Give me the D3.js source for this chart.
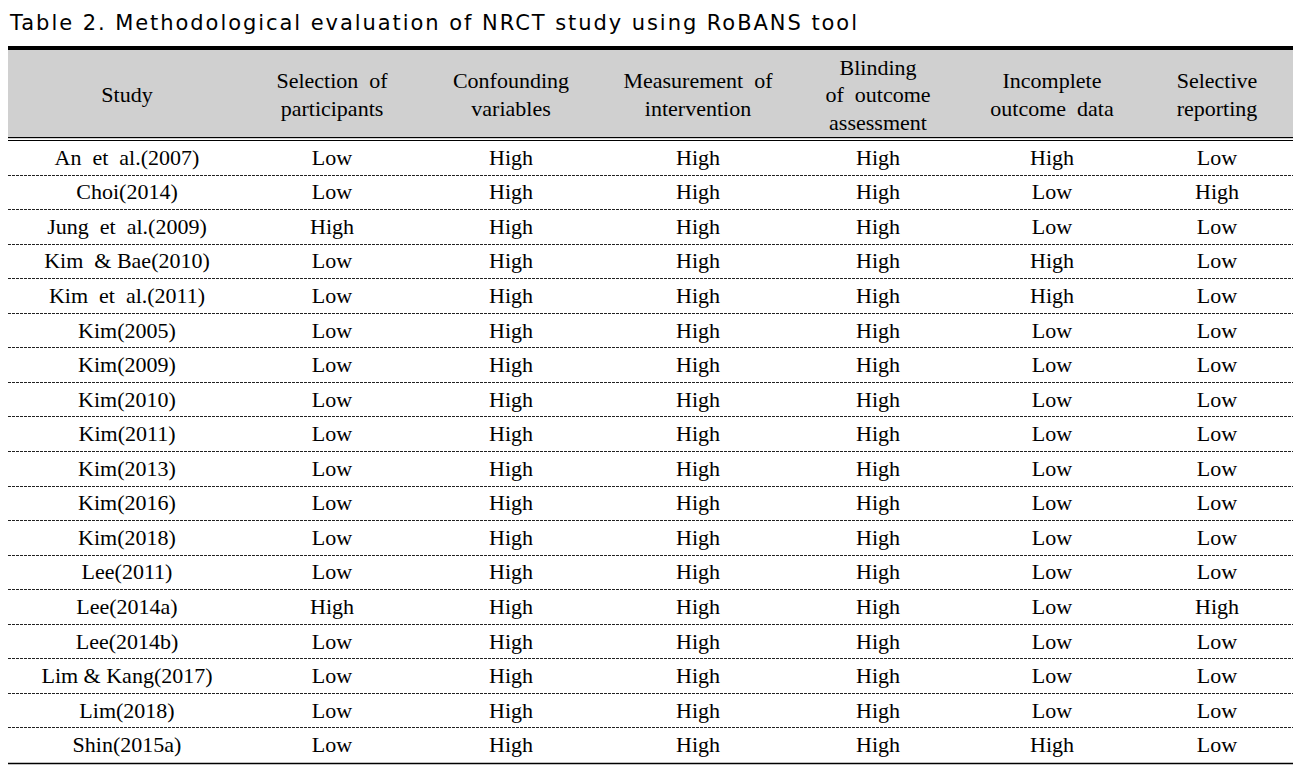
<!DOCTYPE html>
<html>
<head>
<meta charset="utf-8">
<script src="https://cdn.jsdelivr.net/npm/d3@7"></script>
<style>
  body { margin: 0; background: #fff; }
  svg text { white-space: pre; }
</style>
</head>
<body>
<svg id="table"></svg>
<script>
var title = "Table 2. Methodological evaluation of NRCT study using RoBANS tool";
var headers = [
    ["Study"],
    ["Selection  of", "participants"],
    ["Confounding", "variables"],
    ["Measurement  of", "intervention"],
    ["Blinding", "of  outcome", "assessment"],
    ["Incomplete", "outcome  data"],
    ["Selective", "reporting"]
];
var studies = ["An  et  al.(2007)", "Choi(2014)", "Jung  et  al.(2009)", "Kim  & Bae(2010)", "Kim  et  al.(2011)",
    "Kim(2005)", "Kim(2009)", "Kim(2010)", "Kim(2011)", "Kim(2013)", "Kim(2016)", "Kim(2018)",
    "Lee(2011)", "Lee(2014a)", "Lee(2014b)", "Lim & Kang(2017)", "Lim(2018)", "Shin(2015a)"];
var selection   = ["Low","Low","High","Low","Low","Low","Low","Low","Low","Low","Low","Low","Low","High","Low","Low","Low","Low"];
var confounding = ["High","High","High","High","High","High","High","High","High","High","High","High","High","High","High","High","High","High"];
var measurement = ["High","High","High","High","High","High","High","High","High","High","High","High","High","High","High","High","High","High"];
var blinding    = ["High","High","High","High","High","High","High","High","High","High","High","High","High","High","High","High","High","High"];
var incomplete  = ["High","Low","Low","High","High","Low","Low","Low","Low","Low","Low","Low","Low","Low","Low","Low","Low","High"];
var selective   = ["Low","High","Low","Low","Low","Low","Low","Low","Low","Low","Low","Low","Low","High","Low","Low","Low","Low"];

// layout
var W = 1302, H = 774;
var left = 8, right = 1293;
var topLine = 49, headBottom = 139, bodyTop = 141, bodyBottom = 763;
var colCenters = [127, 332, 511, 698, 878, 1052, 1217];
var serif = "'Liberation Serif', 'Times New Roman', serif";

var svg = d3.select("#table").attr("width", W).attr("height", H);

var rows = studies.map(function (s, i) {
    return [s, selection[i], confounding[i], measurement[i], blinding[i], incomplete[i], selective[i]];
});

var x = d3.scaleOrdinal().domain(d3.range(headers.length)).range(colCenters);
var y = d3.scaleBand().domain(d3.range(rows.length)).range([bodyTop, bodyBottom]);

// title
svg.append("text")
    .attr("x", 10).attr("y", 30)
    .attr("font-family", "'DejaVu Sans', sans-serif")
    .attr("font-size", 21)
    .attr("textLength", 847).attr("lengthAdjust", "spacing")
    .attr("fill", "#000")
    .text(title);

// header background
svg.append("rect")
    .attr("x", left).attr("y", topLine).attr("width", right - left).attr("height", headBottom - topLine)
    .attr("fill", "#d0d0d0");

// top thick rule
svg.append("line")
    .attr("x1", left).attr("x2", right).attr("y1", topLine - 1).attr("y2", topLine - 1)
    .attr("stroke", "#000").attr("stroke-width", 4);

// double rule under header
[137.5, 140.5].forEach(function (yy) {
    svg.append("line").attr("x1", left).attr("x2", right).attr("y1", yy).attr("y2", yy)
        .attr("stroke", "#000").attr("stroke-width", 1);
});

// header text
var headMid = (topLine + headBottom) / 2 + 3;
var lineH = 27.5;
svg.selectAll(".head").data(headers).enter().append("text")
    .attr("class", "head")
    .attr("text-anchor", "middle")
    .attr("font-family", serif).attr("font-size", 22).attr("fill", "#000")
    .each(function (d, i) {
        var t = d3.select(this);
        d.forEach(function (line, j) {
            t.append("tspan")
                .attr("x", x(i))
                .attr("y", headMid + (j - (d.length - 1) / 2) * lineH)
                .attr("dominant-baseline", "middle")
                .text(line);
        });
    });

// dashed row separators
svg.selectAll(".sep").data(d3.range(1, rows.length)).enter().append("line")
    .attr("class", "sep")
    .attr("x1", left).attr("x2", right)
    .attr("y1", function (d) { return Math.round(y(d)) - 0.5; })
    .attr("y2", function (d) { return Math.round(y(d)) - 0.5; })
    .attr("stroke", "#222").attr("stroke-width", 1).attr("stroke-dasharray", "3,1");

// bottom rule
svg.append("line")
    .attr("x1", left).attr("x2", right).attr("y1", bodyBottom + 0.5).attr("y2", bodyBottom + 0.5)
    .attr("stroke", "#000").attr("stroke-width", 1.5);

// body cells
var rowG = svg.selectAll(".row").data(rows).enter().append("g").attr("class", "row");
rowG.selectAll("text").data(function (d, i) { return d.map(function (v) { return {v: v, r: i}; }); })
    .enter().append("text")
    .attr("x", function (d, j) { return x(j); })
    .attr("y", function (d) { return y(d.r) + y.bandwidth() / 2 + 1.5; })
    .attr("dominant-baseline", "middle")
    .attr("text-anchor", "middle")
    .attr("font-family", serif).attr("font-size", 22).attr("fill", "#000")
    .text(function (d) { return d.v; });
</script>
</body>
</html>
